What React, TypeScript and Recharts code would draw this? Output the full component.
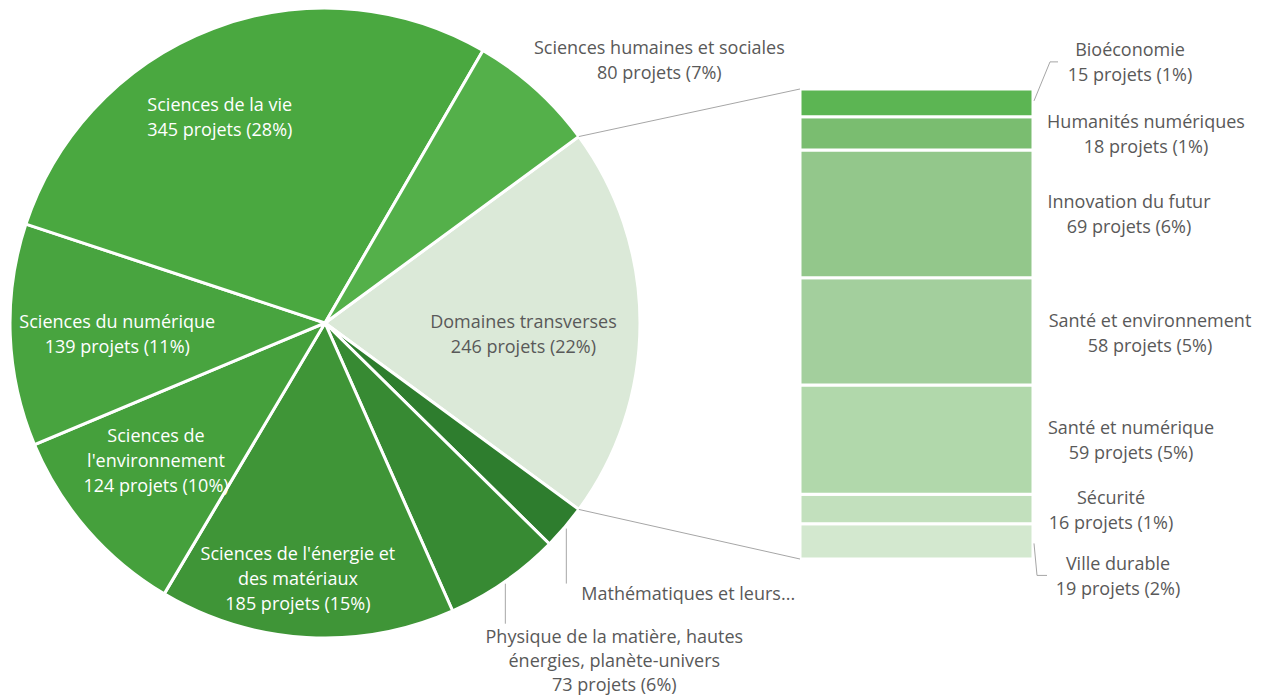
import React from 'react';
import { PieChart, Pie, Cell, BarChart, Bar, XAxis, YAxis, LabelList } from 'recharts';

// main pie, clockwise from "Domaines transverses"
const domainNames = [
  'Domaines transverses',
  'Mathématiques et leurs...',
  'Physique de la matière, hautes\nénergies, planète-univers',
  "Sciences de l'énergie et\ndes matériaux",
  "Sciences de\nl'environnement",
  'Sciences du numérique',
  'Sciences de la vie',
  'Sciences humaines et sociales',
];
const domainValues = [246, 28, 73, 185, 124, 139, 345, 80];
const domainPercents: (number | null)[] = [22, null, 6, 15, 10, 11, 28, 7];
const domainColors = ['#dbe9d8', '#2e7d2e', '#378a33', '#3f9537', '#45a03c', '#48a43f', '#4aa840', '#54b04a'];

// breakdown of "Domaines transverses", top to bottom
const transverseNames = [
  'Bioéconomie',
  'Humanités numériques',
  'Innovation du futur',
  'Santé et environnement',
  'Santé et numérique',
  'Sécurité',
  'Ville durable',
];
const transverseValues = [15, 18, 69, 58, 59, 16, 19];
const transversePercents = [1, 1, 6, 5, 5, 1, 2];
const transverseColors = ['#5cb553', '#7abd70', '#93c78b', '#a3cf9d', '#b1d8ab', '#c2e0bd', '#d3e8cf'];

const FONT = '"Open Sans", sans-serif';
const FONT_SIZE = 18;
const LH = 25;
const GRAY = '#595959';
const RADIAN = Math.PI / 180;

const PCX = 325;
const PCY = 323;
const R = 315;
const BAR_LEFT = 800;
const BAR_TOP = 89;
const BAR_BOTTOM = 559;
const BAR_W = 233;

const pieData = domainNames.map((name, i) => ({ name, value: domainValues[i] }));
const total = domainValues.reduce((a, b) => a + b, 0);
const startAngle = (180 * domainValues[0]) / total;

const barRow: Record<string, number | string> = { name: 'transverses' };
transverseNames.forEach((n, i) => {
  barRow[n] = transverseValues[i];
});
const barTotal = transverseValues.reduce((a, b) => a + b, 0);

type PieLabelCfg =
  | { mode: 'in'; rf: number; dx: number; dy: number; fill: string }
  | { mode: 'out'; dx: number; dy: number }
  | { mode: 'down'; leader: number; tx: number; ty: number; lh: number; anchor: 'start' | 'middle' };

const pieLabelCfg: PieLabelCfg[] = [
  { mode: 'in', rf: 0.63, dx: 0, dy: 10, fill: GRAY },
  { mode: 'down', leader: 55, tx: 15, ty: 64, lh: LH, anchor: 'start' },
  { mode: 'down', leader: 40, tx: 109, ty: 52, lh: 24, anchor: 'middle' },
  { mode: 'in', rf: 0.81, dx: -12, dy: 0, fill: '#fff' },
  { mode: 'in', rf: 0.69, dx: -5, dy: -6, fill: '#fff' },
  { mode: 'in', rf: 0.66, dx: 0, dy: 2, fill: '#fff' },
  { mode: 'in', rf: 0.735, dx: -23, dy: 10, fill: '#fff' },
  { mode: 'out', dx: 124, dy: -29 },
];

const labelLines = (name: string, value: number, pct: number | null) => {
  const lines = name.split('\n');
  if (pct !== null) lines.push(`${value} projets (${pct}%)`);
  return lines;
};

const renderPieLabel = (props: any) => {
  const { cx, cy, midAngle, outerRadius, index } = props;
  const cfg = pieLabelCfg[index];
  const lines = labelLines(domainNames[index], domainValues[index], domainPercents[index]);
  const cos = Math.cos(-midAngle * RADIAN);
  const sin = Math.sin(-midAngle * RADIAN);

  if (cfg.mode === 'down') {
    const ex = cx + (outerRadius + 2) * cos;
    const ey = cy + (outerRadius + 2) * sin;
    return (
      <g key={`pl-${index}`}>
        <line x1={ex} y1={ey} x2={ex} y2={ey + cfg.leader} stroke="#a6a6a6" strokeWidth={1} />
        <text x={ex + cfg.tx} fill={GRAY} fontSize={FONT_SIZE} fontFamily={FONT} textAnchor={cfg.anchor}>
          {lines.map((l, i) => (
            <tspan key={i} x={ex + cfg.tx} y={ey + cfg.ty + i * cfg.lh} dominantBaseline="central">
              {l}
            </tspan>
          ))}
        </text>
      </g>
    );
  }

  let px: number;
  let py: number;
  let fill = GRAY;
  if (cfg.mode === 'in') {
    px = cx + outerRadius * cfg.rf * cos + cfg.dx;
    py = cy + outerRadius * cfg.rf * sin + cfg.dy;
    fill = cfg.fill;
  } else {
    px = cx + outerRadius * cos + cfg.dx;
    py = cy + outerRadius * sin + cfg.dy;
  }
  const y0 = py - ((lines.length - 1) * LH) / 2;
  return (
    <text key={`pl-${index}`} x={px} fill={fill} fontSize={FONT_SIZE} fontFamily={FONT} textAnchor="middle">
      {lines.map((l, i) => (
        <tspan key={i} x={px} y={y0 + i * LH} dominantBaseline="central">
          {l}
        </tspan>
      ))}
    </text>
  );
};

// label box centre (from bar right edge), block offset from segment centre, optional leader
const barLabelCfg = [
  { cx: 97, dy: -41, leader: true },
  { cx: 113, dy: 0, leader: false },
  { cx: 96, dy: 0, leader: false },
  { cx: 117, dy: 1, leader: false },
  { cx: 98, dy: 0, leader: false },
  { cx: 78, dy: 0, leader: false },
  { cx: 85, dy: 34, leader: true },
];

const makeBarLabel = (i: number) => (props: any) => {
  const { x, y, width, height } = props;
  const cfg = barLabelCfg[i];
  const right = Number(x) + Number(width);
  const segMid = Number(y) + Number(height) / 2;
  const blockMid = segMid + cfg.dy;
  const lines = [transverseNames[i], `${transverseValues[i]} projets (${transversePercents[i]}%)`];
  const y0 = blockMid - LH / 2;
  let leader = null;
  if (cfg.leader) {
    const up = cfg.dy < 0;
    const midX = up ? right + 17 : right + 4;
    const endX = up ? right + 25 : right + 14;
    leader = (
      <polyline
        points={`${right + 1},${segMid + (up ? -2 : 2)} ${midX},${blockMid} ${endX},${blockMid}`}
        fill="none"
        stroke="#a6a6a6"
        strokeWidth={1}
      />
    );
  }
  return (
    <g>
      {leader}
      <text x={right + cfg.cx} fill={GRAY} fontSize={FONT_SIZE} fontFamily={FONT} textAnchor="middle">
        {lines.map((l, k) => (
          <tspan key={k} x={right + cfg.cx} y={y0 + k * LH} dominantBaseline="central">
            {l}
          </tspan>
        ))}
      </text>
    </g>
  );
};

const App: React.FC = () => {
  const a = startAngle * RADIAN;
  const edgeX = PCX + R * Math.cos(a);
  const edgeTopY = PCY - R * Math.sin(a);
  const edgeBotY = PCY + R * Math.sin(a);
  // stacked bars draw bottom-up, so reverse the top-to-bottom order
  const order = transverseNames.map((_, i) => i).reverse();

  return (
    <div style={{ position: 'absolute', left: 0, top: 0, width: 1263, height: 700, background: '#fff', fontFamily: FONT }}>
      <div style={{ position: 'absolute', left: 0, top: 0 }}>
        <PieChart width={1263} height={700} margin={{ top: 0, right: 0, bottom: 0, left: 0 }}>
          <Pie
            data={pieData}
            dataKey="value"
            nameKey="name"
            cx={PCX}
            cy={PCY}
            outerRadius={R}
            startAngle={startAngle}
            endAngle={startAngle - 360}
            stroke="#fff"
            strokeWidth={3}
            label={renderPieLabel}
            labelLine={false}
            isAnimationActive={false}
          >
            {pieData.map((entry, index) => (
              <Cell key={`cell-${index}`} fill={domainColors[index]} />
            ))}
          </Pie>
        </PieChart>
      </div>
      <div style={{ position: 'absolute', left: BAR_LEFT, top: 0 }}>
        <BarChart
          width={1263 - BAR_LEFT}
          height={700}
          data={[barRow]}
          margin={{ top: BAR_TOP, right: 1263 - BAR_LEFT - BAR_W, bottom: 700 - BAR_BOTTOM, left: 0 }}
          barCategoryGap={0}
        >
          <XAxis dataKey="name" hide />
          <YAxis hide domain={[0, barTotal]} />
          {order.map((i) => (
            <Bar
              key={transverseNames[i]}
              dataKey={transverseNames[i]}
              stackId="t"
              fill={transverseColors[i]}
              stroke="#fff"
              strokeWidth={3}
              isAnimationActive={false}
            >
              <LabelList dataKey={transverseNames[i]} content={makeBarLabel(i)} />
            </Bar>
          ))}
        </BarChart>
      </div>
      <svg width={1263} height={700} style={{ position: 'absolute', left: 0, top: 0, pointerEvents: 'none' }}>
        <line x1={edgeX} y1={edgeTopY} x2={BAR_LEFT} y2={BAR_TOP} stroke="#a6a6a6" strokeWidth={1} />
        <line x1={edgeX} y1={edgeBotY} x2={BAR_LEFT} y2={BAR_BOTTOM} stroke="#a6a6a6" strokeWidth={1} />
      </svg>
    </div>
  );
};

export default App;
